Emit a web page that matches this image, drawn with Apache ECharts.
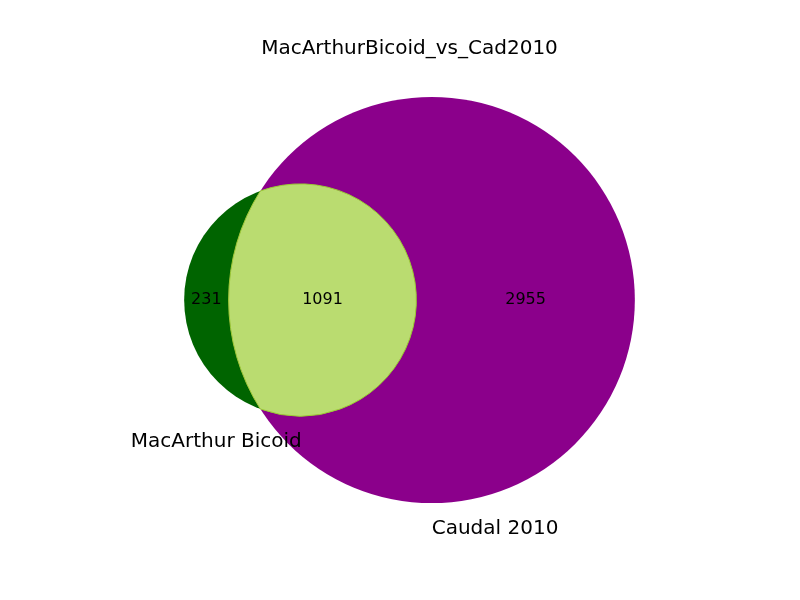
<!DOCTYPE html>
<html>
<head>
<meta charset="utf-8">
<script src="https://cdn.jsdelivr.net/npm/echarts@6/dist/echarts.min.js"></script>
<style>
  html, body { margin: 0; padding: 0; background: #fff; }
  #chart { width: 800px; height: 600px; }
</style>
</head>
<body>
<div id="chart"></div>
<script>
// venn subsets: A only, B only, both
const chartTitle = 'MacArthurBicoid_vs_Cad2010';
const setNames = ['MacArthur Bicoid', 'Caudal 2010'];
const subsetNames = ['10', '01', '11'];
const subsetValues = [231, 2955, 1091];
const setColors = ['#006400', '#8b008b'];
const overlapColor = '#badc70';
const overlapEdge = '#9acd32';

// where the diagram sits on the page
const view = { cx: 409.5, cy: 300, scale: 5.66 };

// circle sizes from set areas
const areaA = subsetValues[0] + subsetValues[2];
const areaB = subsetValues[1] + subsetValues[2];
const rA = Math.sqrt(areaA / Math.PI);
const rB = Math.sqrt(areaB / Math.PI);

function lensArea(r1, r2, d) {
  const a1 = Math.acos((d * d + r1 * r1 - r2 * r2) / (2 * d * r1));
  const a2 = Math.acos((d * d + r2 * r2 - r1 * r1) / (2 * d * r2));
  const k = (-d + r1 + r2) * (d + r1 - r2) * (d - r1 + r2) * (d + r1 + r2);
  return r1 * r1 * a1 + r2 * r2 * a2 - 0.5 * Math.sqrt(k);
}

// find centre distance giving the overlap area
function solveDistance(r1, r2, target) {
  let lo = Math.abs(r1 - r2) + 1e-9;
  let hi = r1 + r2 - 1e-9;
  for (let i = 0; i < 100; i++) {
    const mid = (lo + hi) / 2;
    if (lensArea(r1, r2, mid) > target) lo = mid;
    else hi = mid;
  }
  return (lo + hi) / 2;
}

const dist = solveDistance(rA, rB, subsetValues[2]);
const xA = 0, xB = dist;
const xMin = xA - rA, xMax = xB + rB;
const yMax = Math.max(rA, rB);

// chord of the two circles
const xi = (dist * dist + rA * rA - rB * rB) / (2 * dist);
const yi = Math.sqrt(rA * rA - xi * xi);

const labelX = [
  ((xA - rA) + (xB - rB)) / 2,
  ((xA + rA) + (xB + rB)) / 2,
  ((xB - rB) + (xA + rA)) / 2
];
const pad = (rA + rB) / 2 * 0.1;

const gridW = (xMax - xMin) * view.scale;
const gridH = 2 * yMax * view.scale;

const chart = echarts.init(document.getElementById('chart'));
const font = 'DejaVu Sans';

const option = {
  backgroundColor: '#fff',
  animation: false,
  title: {
    text: chartTitle,
    left: 404.5,
    textAlign: 'center',
    top: 34,
    textStyle: { fontFamily: font, fontSize: 20, fontWeight: 'normal', color: '#000' }
  },
  grid: {
    left: view.cx - gridW / 2,
    top: view.cy - gridH / 2,
    width: gridW,
    height: gridH
  },
  xAxis: { type: 'value', min: xMin, max: xMax, show: false },
  yAxis: { type: 'value', min: -yMax, max: yMax, show: false },
  series: [
    {
      type: 'custom',
      coordinateSystem: 'cartesian2d',
      silent: true,
      data: subsetNames.map((n, i) => [i, subsetValues[i]]),
      renderItem: function (params, api) {
        const idx = api.value(0);
        const pA = api.coord([xA, 0]);
        const pB = api.coord([xB, 0]);
        const ra = api.size([rA, 0])[0];
        const rb = api.size([rB, 0])[0];
        const children = [];
        if (idx === 1) {
          children.push({
            type: 'circle',
            shape: { cx: pB[0], cy: pB[1], r: rb },
            style: { fill: setColors[1] }
          });
        } else if (idx === 0) {
          children.push({
            type: 'circle',
            shape: { cx: pA[0], cy: pA[1], r: ra },
            style: { fill: setColors[0] }
          });
        } else {
          const p1 = api.coord([xA + xi, yi]);
          const p2 = api.coord([xA + xi, -yi]);
          const bigA = xi < 0 ? 1 : 0;
          const bigB = (xi - dist) > 0 ? 1 : 0;
          const d = 'M' + p1[0] + ' ' + p1[1] +
            ' A' + ra + ' ' + ra + ' 0 ' + bigA + ' 1 ' + p2[0] + ' ' + p2[1] +
            ' A' + rb + ' ' + rb + ' 0 ' + bigB + ' 1 ' + p1[0] + ' ' + p1[1] + ' Z';
          children.push({
            type: 'path',
            shape: { pathData: d },
            style: { fill: overlapColor, stroke: overlapEdge, lineWidth: 1 }
          });
        }
        const lp = api.coord([labelX[idx], 0]);
        children.push({
          type: 'text',
          z2: 10,
          style: {
            x: lp[0], y: lp[1],
            text: String(api.value(1)),
            align: 'center', verticalAlign: 'middle',
            fontFamily: font, fontSize: 16, fill: '#000'
          }
        });
        return { type: 'group', children: children };
      },
      z: 1
    },
    {
      type: 'custom',
      coordinateSystem: 'cartesian2d',
      silent: true,
      z: 5,
      data: setNames.map((n, i) => [i === 0 ? xA : xB, -(i === 0 ? rA : rB) - pad, i]),
      renderItem: function (params, api) {
        const p = api.coord([api.value(0), api.value(1)]);
        const i = api.value(2);
        return {
          type: 'text',
          style: {
            x: p[0] + (i === 0 ? 1.5 : 0), y: p[1],
            text: setNames[i],
            align: i === 0 ? 'right' : 'left',
            verticalAlign: 'top',
            fontFamily: font, fontSize: 20, fill: '#000'
          }
        };
      }
    }
  ]
};

chart.setOption(option);
</script>
</body>
</html>
